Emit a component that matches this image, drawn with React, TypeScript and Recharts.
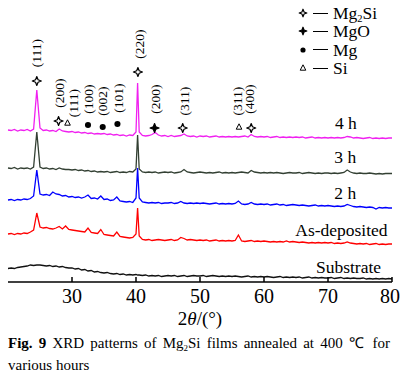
import React from 'react';
import { ComposedChart, Line, XAxis, YAxis, ReferenceDot, Legend } from 'recharts';

const SERIF = '"Liberation Serif", "Times New Roman", serif';

// 2θ grid: 0.5° steps, plus one extra point on the (220) peak
const angles: number[] = [
    ...Array.from({ length: 41 }, (_, i) => 20 + i * 0.5),
    40.25,
    ...Array.from({ length: 80 }, (_, i) => 40.5 + i * 0.5),
];

const xTicks = [20, 30, 40, 50, 60, 70, 80];

// intensities (a.u., curves offset for display)
const h4 = [
    152, 151.5, 152.5, 151, 152, 151.5, 152.5, 151, 153, 192,
    154, 151.5, 152, 151, 151.5, 150.5, 153, 151, 150.5, 150,
    150.5, 149.5, 150, 149, 149.5, 148.5, 149, 148, 148.5, 148,
    148.5, 147.5, 148, 147, 147.5, 146.5, 147, 146, 147, 146.5,
    150, 199, 150, 146.5, 146, 146.5, 147.5, 149.5, 147, 146, 146.5,
    145.5, 146.5, 145.5, 146, 146.5, 148, 146, 145.5, 146, 145,
    146, 145.5, 146, 145, 145.5, 146, 145, 145.5, 145, 145.5,
    145, 145.5, 145, 145.5, 146, 145, 147.5, 145.5, 145, 145.5,
    145, 145.5, 144.5, 145, 145.5, 144.5, 145, 144.5, 145, 144.5,
    145, 144.5, 145, 144, 144.5, 145, 144, 144.5, 144, 144.5,
    144, 144.5, 144, 144.5, 144, 144.5, 145.5, 145, 144, 144.5,
    144, 143.5, 144, 144.5, 143.5, 144, 143.5, 144, 143.5, 144,
    144,
];

const h3 = [
    114, 113.5, 114.5, 113, 114, 113.5, 114, 113, 115, 150,
    115, 113.5, 114, 113, 113.5, 112.5, 114, 113, 112.5, 112.5,
    112, 112.5, 111.5, 112, 111, 111.5, 110.5, 111, 110, 110.5,
    110, 110.5, 109.5, 110, 110.5, 109.5, 110, 109.5, 110.5, 110,
    113, 147, 113, 110, 109.5, 110, 109.5, 110, 109, 109.5, 110,
    109.5, 110, 109, 109.5, 110, 112.5, 110, 109.5, 109, 109.5,
    110, 109.5, 109, 109.5, 109, 109.5, 110, 109, 109.5, 109,
    109.5, 109, 109.5, 110, 109.5, 109, 111.5, 110, 109.5, 109,
    109.5, 109, 109.5, 109, 109.5, 109, 108.5, 109, 109.5, 109,
    109, 109.5, 108.5, 109, 109.5, 109, 108.5, 109, 108.5, 109,
    109, 108.5, 109, 108.5, 109, 109.5, 112, 110, 109, 108.5,
    109, 108.5, 108.5, 109, 108.5, 108, 108.5, 108, 108.5, 108.5,
    108.5,
];

const h2 = [
    82, 82.5, 81.5, 82.5, 82, 83, 82.5, 83.5, 86, 112,
    88, 87, 87.5, 86.5, 90, 88, 87.5, 86, 86.5, 85,
    85.5, 84.5, 85, 84, 85, 87, 83.5, 84, 83, 86,
    82.5, 83, 81.5, 82, 85, 81, 80.5, 80, 80.5, 79.5,
    84, 114, 84, 80, 79.5, 79, 79.5, 79, 79.5, 78.5, 79,
    79, 79.5, 78.5, 79, 80.5, 79, 78.5, 79, 78.5, 79,
    78.5, 79, 78.5, 78, 78.5, 79, 78, 78.5, 78, 78.5,
    78, 78.5, 81, 78, 77.5, 78, 79.5, 78, 77.5, 78,
    77.5, 78, 77, 77.5, 78, 77, 77.5, 76.5, 77, 77.5,
    77, 76.5, 77, 76.5, 76, 76.5, 77, 76, 76.5, 76,
    76.5, 76, 75.5, 76, 75.5, 76, 77.5, 76.5, 75.5, 75,
    75.5, 75, 74.5, 75, 74.5, 73, 74.5, 74, 74.5, 74,
    74,
];

const asDeposited = [
    48, 48.5, 47.5, 48.5, 48, 49, 48.5, 50, 52, 69,
    55, 54, 54.5, 53.5, 53, 54, 55.5, 53, 56, 52.5,
    52, 51.5, 51, 50.5, 50, 54, 49.5, 49, 48.5, 52.5,
    47.5, 47, 46.5, 46, 50, 45.5, 45, 44.5, 44, 44.5,
    48, 74, 46, 42.5, 42, 42.5, 41.5, 42, 42.5, 42, 41.5,
    42, 42.5, 41.5, 42, 44.5, 43.5, 42, 42.5, 42, 41.5,
    42, 41.5, 42, 41, 41.5, 42, 41, 41.5, 41, 41.5,
    41, 41.5, 47, 41, 40.5, 41, 41.5, 40.5, 41, 40.5,
    41, 40.5, 40, 40.5, 40, 40.5, 40, 41, 40, 40.5,
    40, 39.5, 40, 39.5, 39, 39.5, 39, 39.5, 39, 39.5,
    39, 39.5, 38.5, 39, 38.5, 39, 40, 39, 38.5, 38,
    38.5, 38, 38.5, 37.5, 38, 38.5, 37.5, 38, 37.5, 38,
    38,
];

const substrate = [
    13.5, 14, 13.5, 14.5, 15, 15.5, 16, 17, 16.5, 17,
    17, 16.5, 16, 16.5, 15.5, 16, 15, 15.5, 14.5, 14,
    14, 13, 13.5, 12, 12.5, 11, 11.5, 10, 10.5, 9.5,
    9, 9.5, 8.5, 8, 8.5, 7.5, 8, 7, 7.5, 7,
    7.5, 7, 7, 6.5, 7, 6, 6.5, 6, 6.5, 5.5, 6,
    6.5, 6, 6.5, 5.5, 6, 6.5, 5.5, 6, 6.5, 6,
    6, 6.5, 5.5, 6, 6.5, 6, 5.5, 6, 5.5, 6,
    5.5, 6, 5.5, 5, 5.5, 6, 5, 5.5, 5, 5.5,
    5, 5.5, 5, 4.5, 5, 5.5, 4.5, 5, 4.5, 5,
    4.5, 5, 4, 4.5, 5, 4, 4.5, 4, 4.5, 4,
    4, 4.5, 3.5, 4, 4.5, 3.5, 4, 3.5, 4, 3.5,
    3.5, 4, 3, 3.5, 3, 3.5, 3, 3.5, 3, 3.5,
    3,
];

const chartData = angles.map((angle, i) => ({
    angle,
    h4: h4[i],
    h3: h3[i],
    h2: h2[i],
    asDeposited: asDeposited[i],
    substrate: substrate[i],
}));

// phase markers above the 4 h pattern
const peakMarks = [
    { angle: 24.5, level: 201, phase: 'Mg2Si' },
    { angle: 27.9, level: 161, phase: 'Mg2Si' },
    { angle: 29.3, level: 159, phase: 'Si' },
    { angle: 32.5, level: 157, phase: 'Mg' },
    { angle: 34.8, level: 155, phase: 'Mg' },
    { angle: 37.1, level: 158, phase: 'Mg' },
    { angle: 40.3, level: 210, phase: 'Mg2Si' },
    { angle: 42.9, level: 154, phase: 'MgO' },
    { angle: 47.3, level: 154, phase: 'Mg2Si' },
    { angle: 56.1, level: 155, phase: 'Si' },
    { angle: 58.0, level: 154, phase: 'Mg2Si' },
];

const hklLabels = [
    { text: '(111)', angle: 24.5, level: 229 },
    { text: '(200)', angle: 28.1, level: 189 },
    { text: '(111)', angle: 30.3, level: 179 },
    { text: '(100)', angle: 32.5, level: 183 },
    { text: '(002)', angle: 34.8, level: 181 },
    { text: '(101)', angle: 37.2, level: 184 },
    { text: '(220)', angle: 40.5, level: 238 },
    { text: '(200)', angle: 43.1, level: 183 },
    { text: '(311)', angle: 47.5, level: 181 },
    { text: '(311)', angle: 55.9, level: 181 },
    { text: '(400)', angle: 57.8, level: 183 },
];

const curveLabels = [
    { text: '4 h', angle: 72.8, level: 159 },
    { text: '3 h', angle: 72.7, level: 125 },
    { text: '2 h', angle: 72.7, level: 89 },
    { text: 'As-deposited', angle: 72.1, level: 52 },
    { text: 'Substrate', angle: 73.2, level: 15 },
];

const legendPhases = ['Mg2Si', 'MgO', 'Mg', 'Si'];

function PhaseMarker({ cx, cy, phase, size = 4.5 }: { cx: number; cy: number; phase: string; size?: number }) {
    if (phase === 'Mg2Si' || phase === 'MgO') {
        const s = size;
        const w = size * 0.28;
        const d = `M${cx},${cy - s} L${cx + w},${cy - w} L${cx + s},${cy} L${cx + w},${cy + w} L${cx},${cy + s} L${cx - w},${cy + w} L${cx - s},${cy} L${cx - w},${cy - w} Z`;
        return <path d={d} fill={phase === 'MgO' ? '#000' : '#fff'} stroke="#000" strokeWidth={1.2} strokeLinejoin="round" />;
    }
    if (phase === 'Mg') {
        return <circle cx={cx} cy={cy} r={size * 0.68} fill="#000" />;
    }
    return (
        <path
            d={`M${cx},${cy - 3.2} L${cx + 2.8},${cy + 2.2} L${cx - 2.8},${cy + 2.2} Z`}
            fill="none"
            stroke="#000"
            strokeWidth={1}
        />
    );
}

// subscript that does not grow the line box
const subStyle = { fontSize: '0.6em', position: 'relative' as const, top: '0.3em', verticalAlign: 'baseline', lineHeight: 0 };

function PhaseName({ phase }: { phase: string }) {
    if (phase === 'Mg2Si') {
        return <span>Mg<span style={subStyle}>2</span>Si</span>;
    }
    return <span>{phase}</span>;
}

const renderLegend = () => (
    <div style={{ fontFamily: SERIF, fontSize: 17.5, lineHeight: '18px', color: '#000' }}>
        {legendPhases.map((phase) => (
            <div key={phase} style={{ display: 'flex', alignItems: 'center', height: 18.3 }}>
                <svg width={14} height={18} style={{ display: 'block' }}>
                    <PhaseMarker cx={7} cy={9} phase={phase} size={3.8} />
                </svg>
                <span style={{ display: 'inline-block', width: 15, borderTop: '1.3px solid #000', margin: '0 5px 0 3px' }} />
                <PhaseName phase={phase} />
            </div>
        ))}
    </div>
);

export default function App() {
    return (
        <div style={{ position: 'absolute', left: 0, top: 0, width: 400, height: 382, background: '#fff' }}>
            <ComposedChart width={400} height={330} data={chartData} margin={{ top: 1, right: 8, left: 8, bottom: 0 }}>
                <XAxis
                    dataKey="angle"
                    type="number"
                    domain={[20, 80]}
                    ticks={xTicks}
                    height={48}
                    tickSize={-5}
                    tickMargin={12}
                    stroke="#000"
                    strokeWidth={1.5}
                    tick={{ fill: '#000', fontSize: 20, fontFamily: SERIF }}
                />
                <XAxis xAxisId="top" orientation="top" type="number" domain={[20, 80]} height={0} tick={false} tickLine={false} stroke="#000" strokeWidth={1.5} />
                <YAxis type="number" domain={[0, 281]} width={0} tick={false} tickLine={false} stroke="#000" strokeWidth={1.5} />
                <YAxis yAxisId="right" orientation="right" type="number" domain={[0, 281]} width={0} tick={false} tickLine={false} stroke="#000" strokeWidth={1.5} />
                <Line type="linear" dataKey="substrate" stroke="#111" strokeWidth={1.3} dot={false} isAnimationActive={false} />
                <Line type="linear" dataKey="asDeposited" stroke="#ff0000" strokeWidth={1.3} dot={false} isAnimationActive={false} />
                <Line type="linear" dataKey="h2" stroke="#0000ff" strokeWidth={1.3} dot={false} isAnimationActive={false} />
                <Line type="linear" dataKey="h3" stroke="#334033" strokeWidth={1.3} dot={false} isAnimationActive={false} />
                <Line type="linear" dataKey="h4" stroke="#f020f0" strokeWidth={1.3} dot={false} isAnimationActive={false} />
                {peakMarks.map((m, i) => (
                    <ReferenceDot
                        key={`m${i}`}
                        x={m.angle}
                        y={m.level}
                        r={0}
                        shape={(p: any) => <PhaseMarker cx={p.cx} cy={p.cy} phase={m.phase} />}
                    />
                ))}
                {hklLabels.map((l, i) => (
                    <ReferenceDot
                        key={`l${i}`}
                        x={l.angle}
                        y={l.level}
                        r={0}
                        shape={(p: any) => (
                            <text
                                x={p.cx}
                                y={p.cy}
                                transform={`rotate(-90 ${p.cx} ${p.cy})`}
                                textAnchor="middle"
                                dominantBaseline="central"
                                fontFamily={SERIF}
                                fontSize={13.5}
                                fill="#000"
                            >
                                {l.text}
                            </text>
                        )}
                    />
                ))}
                {curveLabels.map((l, i) => (
                    <ReferenceDot
                        key={`c${i}`}
                        x={l.angle}
                        y={l.level}
                        r={0}
                        shape={(p: any) => (
                            <text x={p.cx} y={p.cy} textAnchor="middle" dominantBaseline="central" fontFamily={SERIF} fontSize={17.5} fill="#000">
                                {l.text}
                            </text>
                        )}
                    />
                ))}
                <Legend
                    content={renderLegend}
                    layout="horizontal"
                    verticalAlign="middle"
                    align="center"
                    wrapperStyle={{ top: 4, left: 296, width: 100 }}
                />
            </ComposedChart>
            <div style={{ position: 'absolute', top: 308, left: 0, width: 400, textAlign: 'center', fontFamily: SERIF, fontSize: 19, lineHeight: '22px', color: '#000' }}>
                2<i>θ</i>/(°)
            </div>
            <div style={{ position: 'absolute', top: 332, left: 8, width: 382, fontFamily: SERIF, fontSize: 15, lineHeight: '22px', color: '#000' }}>
                <div style={{ textAlign: 'justify', textAlignLast: 'justify', whiteSpace: 'nowrap' as const }}>
                    <b>Fig. 9</b> XRD patterns of Mg<span style={subStyle}>2</span>Si films annealed at 400 ℃ for
                </div>
                <div>various hours</div>
            </div>
        </div>
    );
}
